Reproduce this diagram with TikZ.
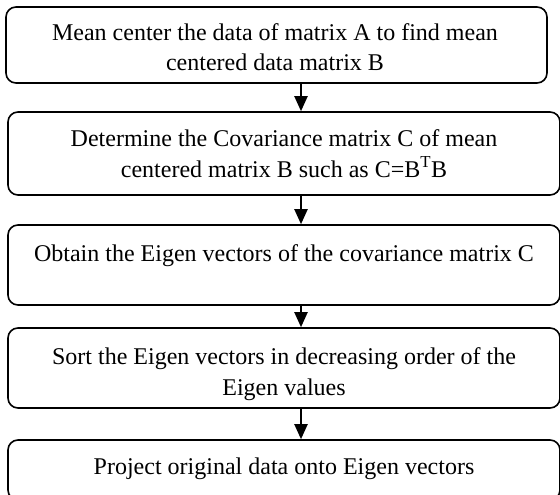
\documentclass[tikz,border=0pt]{standalone}
\usepackage{fontspec}
\setmainfont{Liberation Serif}
\usetikzlibrary{arrows.meta}
\begin{document}
\begin{tikzpicture}[x=1pt,y=1pt,
  stepbox/.style={draw=black, line width=1.6pt, rounded corners=10pt,
    inner sep=0pt, minimum width=#1},
  stepbox/.default=552pt,
  steptext/.style={inner sep=0pt, align=center, anchor=base,
    font=\fontsize{24}{31}\selectfont},
  flow/.style={line width=2pt, -{Triangle[width=13pt,length=15pt]}}]
\useasboundingbox (0,0) rectangle (560,-495);

% process boxes
\node[stepbox=541pt, minimum height=76pt] (b1) at (276.5,-45) {};
\node[stepbox, minimum height=83pt] (b2) at (284,-153.5) {};
\node[stepbox, minimum height=80pt] (b3) at (284,-265) {};
\node[stepbox, minimum height=80pt] (b4) at (284,-368) {};
\node[stepbox, minimum height=60pt] (b5) at (284,-470) {};

% box texts (anchored at the baseline of the last line)
\node[steptext] (t1) at (275,-71) {Mean center the data of matrix A to find mean\\centered data matrix B};
\node[steptext] (t2) at (284,-177) {Determine the Covariance matrix C of mean\\centered matrix B such as C=B\textsuperscript{T}B};
\node[steptext] (t3) at (284,-261) {Obtain the Eigen vectors of the covariance matrix C};
\node[steptext] (t4) at (284,-395) {Sort the Eigen vectors in decreasing order of the\\Eigen values};
\node[steptext] (t5) at (284,-474) {Project original data onto Eigen vectors};

% connectors
\draw[flow] (b1.south -| 301,0) -- (b2.north -| 301,0);
\draw[flow] (b2.south -| 301,0) -- (b3.north -| 301,0);
\draw[flow] (b3.south -| 301,0) -- (b4.north -| 301,0);
\draw[flow] (b4.south -| 301,0) -- (b5.north -| 301,0);
\end{tikzpicture}
\end{document}
